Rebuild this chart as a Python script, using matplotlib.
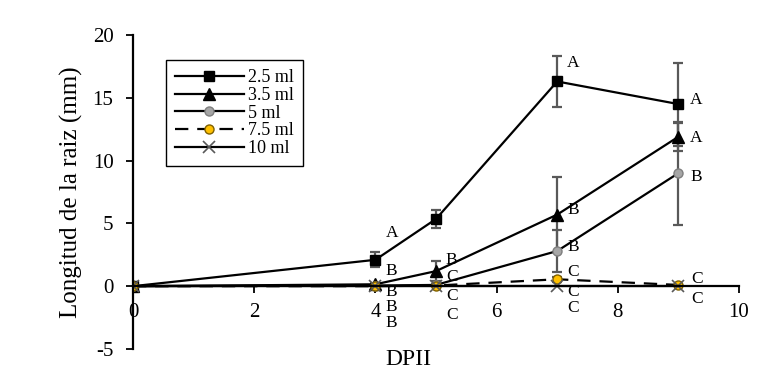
import matplotlib.pyplot as plt
from matplotlib.lines import Line2D

plt.rcParams['font.family'] = ['Liberation Serif', 'DejaVu Serif']
plt.rcParams['axes.unicode_minus'] = False

dpii = [0, 4, 5, 7, 9]
labels = ['2.5 ml', '3.5 ml', '5 ml', '7.5 ml', '10 ml']
m25 = [0, 2.1, 5.35, 16.3, 14.5]
e25 = [0, 0.6, 0.75, 2.0, 3.3]
m35 = [0, 0.15, 1.2, 5.7, 11.9]
e35 = [0, 0.1, 0.8, 3.0, 1.1]
m5 = [0, 0.05, 0.1, 2.8, 9.0]
e5 = [0, 0.05, 0.05, 1.7, 4.1]
m75 = [0, 0.0, 0.05, 0.55, 0.1]
e75 = [0, 0, 0, 0.2, 0]
m10 = [0, 0, 0, 0, 0]
e10 = [0, 0, 0, 0, 0]

# letras de significancia (x, y, texto)
let_x = [4.27] * 5 + [5.26] * 4 + [7.26] * 6 + [9.3] * 5
let_y = [4.2, 1.2, -0.45, -1.65, -2.95,
         2.1, 0.7, -0.8, -2.3,
         17.8, 6.1, 3.1, 1.15, -0.45, -1.7,
         14.8, 11.8, 8.7, 0.55, -1.05]
let_t = ['A', 'B', 'B', 'B', 'B',
         'B', 'C', 'C', 'C',
         'A', 'B', 'B', 'C', 'C', 'C',
         'A', 'A', 'B', 'C', 'C']

fig = plt.figure(figsize=(7.84, 3.86), dpi=100)
ax = fig.add_axes([0.1696, 0.0959, 0.773, 0.8134])

ecol = '#595959'
series = [
    (m25, e25, dict(marker='s', color='black', mfc='black', mec='black', ms=7, ls='-')),
    (m35, e35, dict(marker='^', color='black', mfc='black', mec='black', ms=8, ls='-')),
    (m5, e5, dict(marker='o', color='black', mfc='#a6a6a6', mec='#7f7f7f', ms=6.5, ls='-')),
    (m75, e75, dict(marker='o', color='black', mfc='#ffc000', mec='#7f6000', ms=6.5, ls=(0, (6, 4)))),
    (m10, e10, dict(marker='x', color='black', mfc='none', mec='#595959', ms=8, mew=1.2, ls='-')),
]
handles = []
for (m, e, st), lab in zip(series, labels):
    ax.errorbar(dpii, m, yerr=e, ecolor=ecol, elinewidth=1.6, capsize=3.5, capthick=1.6,
                lw=1.6, **st)
    handles.append(Line2D([], [], lw=1.6, label=lab, **st))

for x, y, t in zip(let_x, let_y, let_t):
    ax.text(x, y, t, fontsize=12.5, ha='center', va='center')

ax.set_xlim(0, 10)
ax.set_ylim(-5, 20)
ax.set_xticks([0, 2, 4, 6, 8, 10])
ax.set_yticks([-5, 0, 5, 10, 15, 20])
ax.spines['left'].set_position(('data', 0))
ax.spines['bottom'].set_position(('data', 0))
ax.spines['top'].set_visible(False)
ax.spines['right'].set_visible(False)
ax.spines['left'].set_linewidth(1.6)
ax.spines['bottom'].set_linewidth(1.6)
ax.tick_params(direction='out', length=5, width=1.3, labelsize=15)
ax.tick_params(axis='x', pad=7)
ax.tick_params(axis='y', pad=9)
ax.set_facecolor('none')

ax.set_ylabel('Longitud de la raiz (mm)', fontsize=18, labelpad=7)
ax.text(4.54, -5.0, 'DPII', fontsize=17, ha='center', va='top')

ax.legend(handles=handles, loc='upper left', bbox_to_anchor=(0.0545, 0.92),
          borderaxespad=0, fontsize=13, handlelength=3.8,
          frameon=True, fancybox=False, edgecolor='black',
          framealpha=1, borderpad=0.5, labelspacing=0.04, handletextpad=0.25)

fig.savefig('out.png', dpi=100)
